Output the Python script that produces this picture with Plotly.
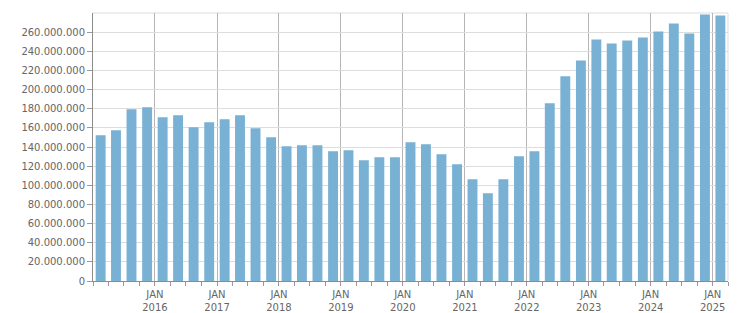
import plotly.graph_objects as go
import pandas as pd

# Quarterly values (in units), first quarter = 2015 Q1
values_millions = [
    152.2, 157.4, 179.4, 181.4,   # 2015
    171.0, 173.1, 160.6, 165.8,   # 2016
    168.9, 173.1, 159.5, 150.2,   # 2017
    140.8, 141.8, 141.8, 135.6,   # 2018
    136.6, 126.2, 129.3, 129.3,   # 2019
    145.0, 142.9, 132.4, 122.0,   # 2020
    106.4, 91.8, 106.4, 130.3,    # 2021
    135.6, 185.6, 213.8, 230.4,   # 2022
    252.3, 248.2, 251.3, 254.4,   # 2023
    260.7, 269.0, 258.6, 278.4,   # 2024
    277.4,                        # 2025
]
values = [v * 1_000_000 for v in values_millions]
quarters = pd.date_range(start="2015-01-01", periods=len(values), freq="QS")

tick_years = [2016, 2017, 2018, 2019, 2020, 2021, 2022, 2023, 2024, 2025]
tick_vals = [f"{y}-01-01" for y in tick_years]
tick_text = [f"JAN<br>{y}" for y in tick_years]

y_ticks = list(range(0, 260_000_001, 20_000_000))

bar_color = "#78b1d3"
font_color = "#666666"
font_family = "DejaVu Sans"

fig = go.Figure()
fig.add_trace(go.Bar(
    x=quarters,
    y=values,
    xperiod="M3",
    xperiodalignment="middle",
    marker=dict(color=bar_color, line=dict(width=0)),
    hoverinfo="x+y",
))

fig.update_layout(
    width=751,
    height=313,
    margin=dict(l=93, r=23, t=13, b=32),
    paper_bgcolor="white",
    plot_bgcolor="white",
    separators=",.",
    bargap=0.355,
    showlegend=False,
    font=dict(family=font_family, size=10, color=font_color),
    xaxis=dict(
        type="date",
        automargin=False,
        range=["2015-01-01", "2025-04-01"],
        tickmode="array",
        tickvals=tick_vals,
        ticktext=tick_text,
        ticks="outside",
        ticklen=4,
        tickcolor="#999999",
        showgrid=True,
        gridcolor="#b5b5b5",
        gridwidth=1,
        showline=True,
        linecolor="#8c8c8c",
        linewidth=1,
        zeroline=False,
        tickfont=dict(family=font_family, size=10, color=font_color),
        minor=dict(
            tick0="2015-01-01",
            dtick="M3",
            ticks="outside",
            ticklen=4,
            tickcolor="#999999",
            showgrid=False,
        ),
    ),
    yaxis=dict(
        automargin=False,
        range=[0, 280_000_000],
        tickmode="array",
        tickvals=y_ticks,
        tickformat=",d",
        ticks="outside",
        ticklen=5,
        tickcolor="#999999",
        showgrid=True,
        gridcolor="#dddddd",
        gridwidth=1,
        showline=True,
        linecolor="#8c8c8c",
        linewidth=1,
        zeroline=False,
        tickfont=dict(family=font_family, size=10, color=font_color),
    ),
    shapes=[
        dict(type="line", xref="paper", yref="paper", x0=0, x1=1, y0=1, y1=1,
             line=dict(color="#dddddd", width=1), layer="below"),
        dict(type="line", xref="paper", yref="paper", x0=1, x1=1, y0=0, y1=1,
             line=dict(color="#dddddd", width=1), layer="below"),
    ],
)

fig.write_html("out.html")
